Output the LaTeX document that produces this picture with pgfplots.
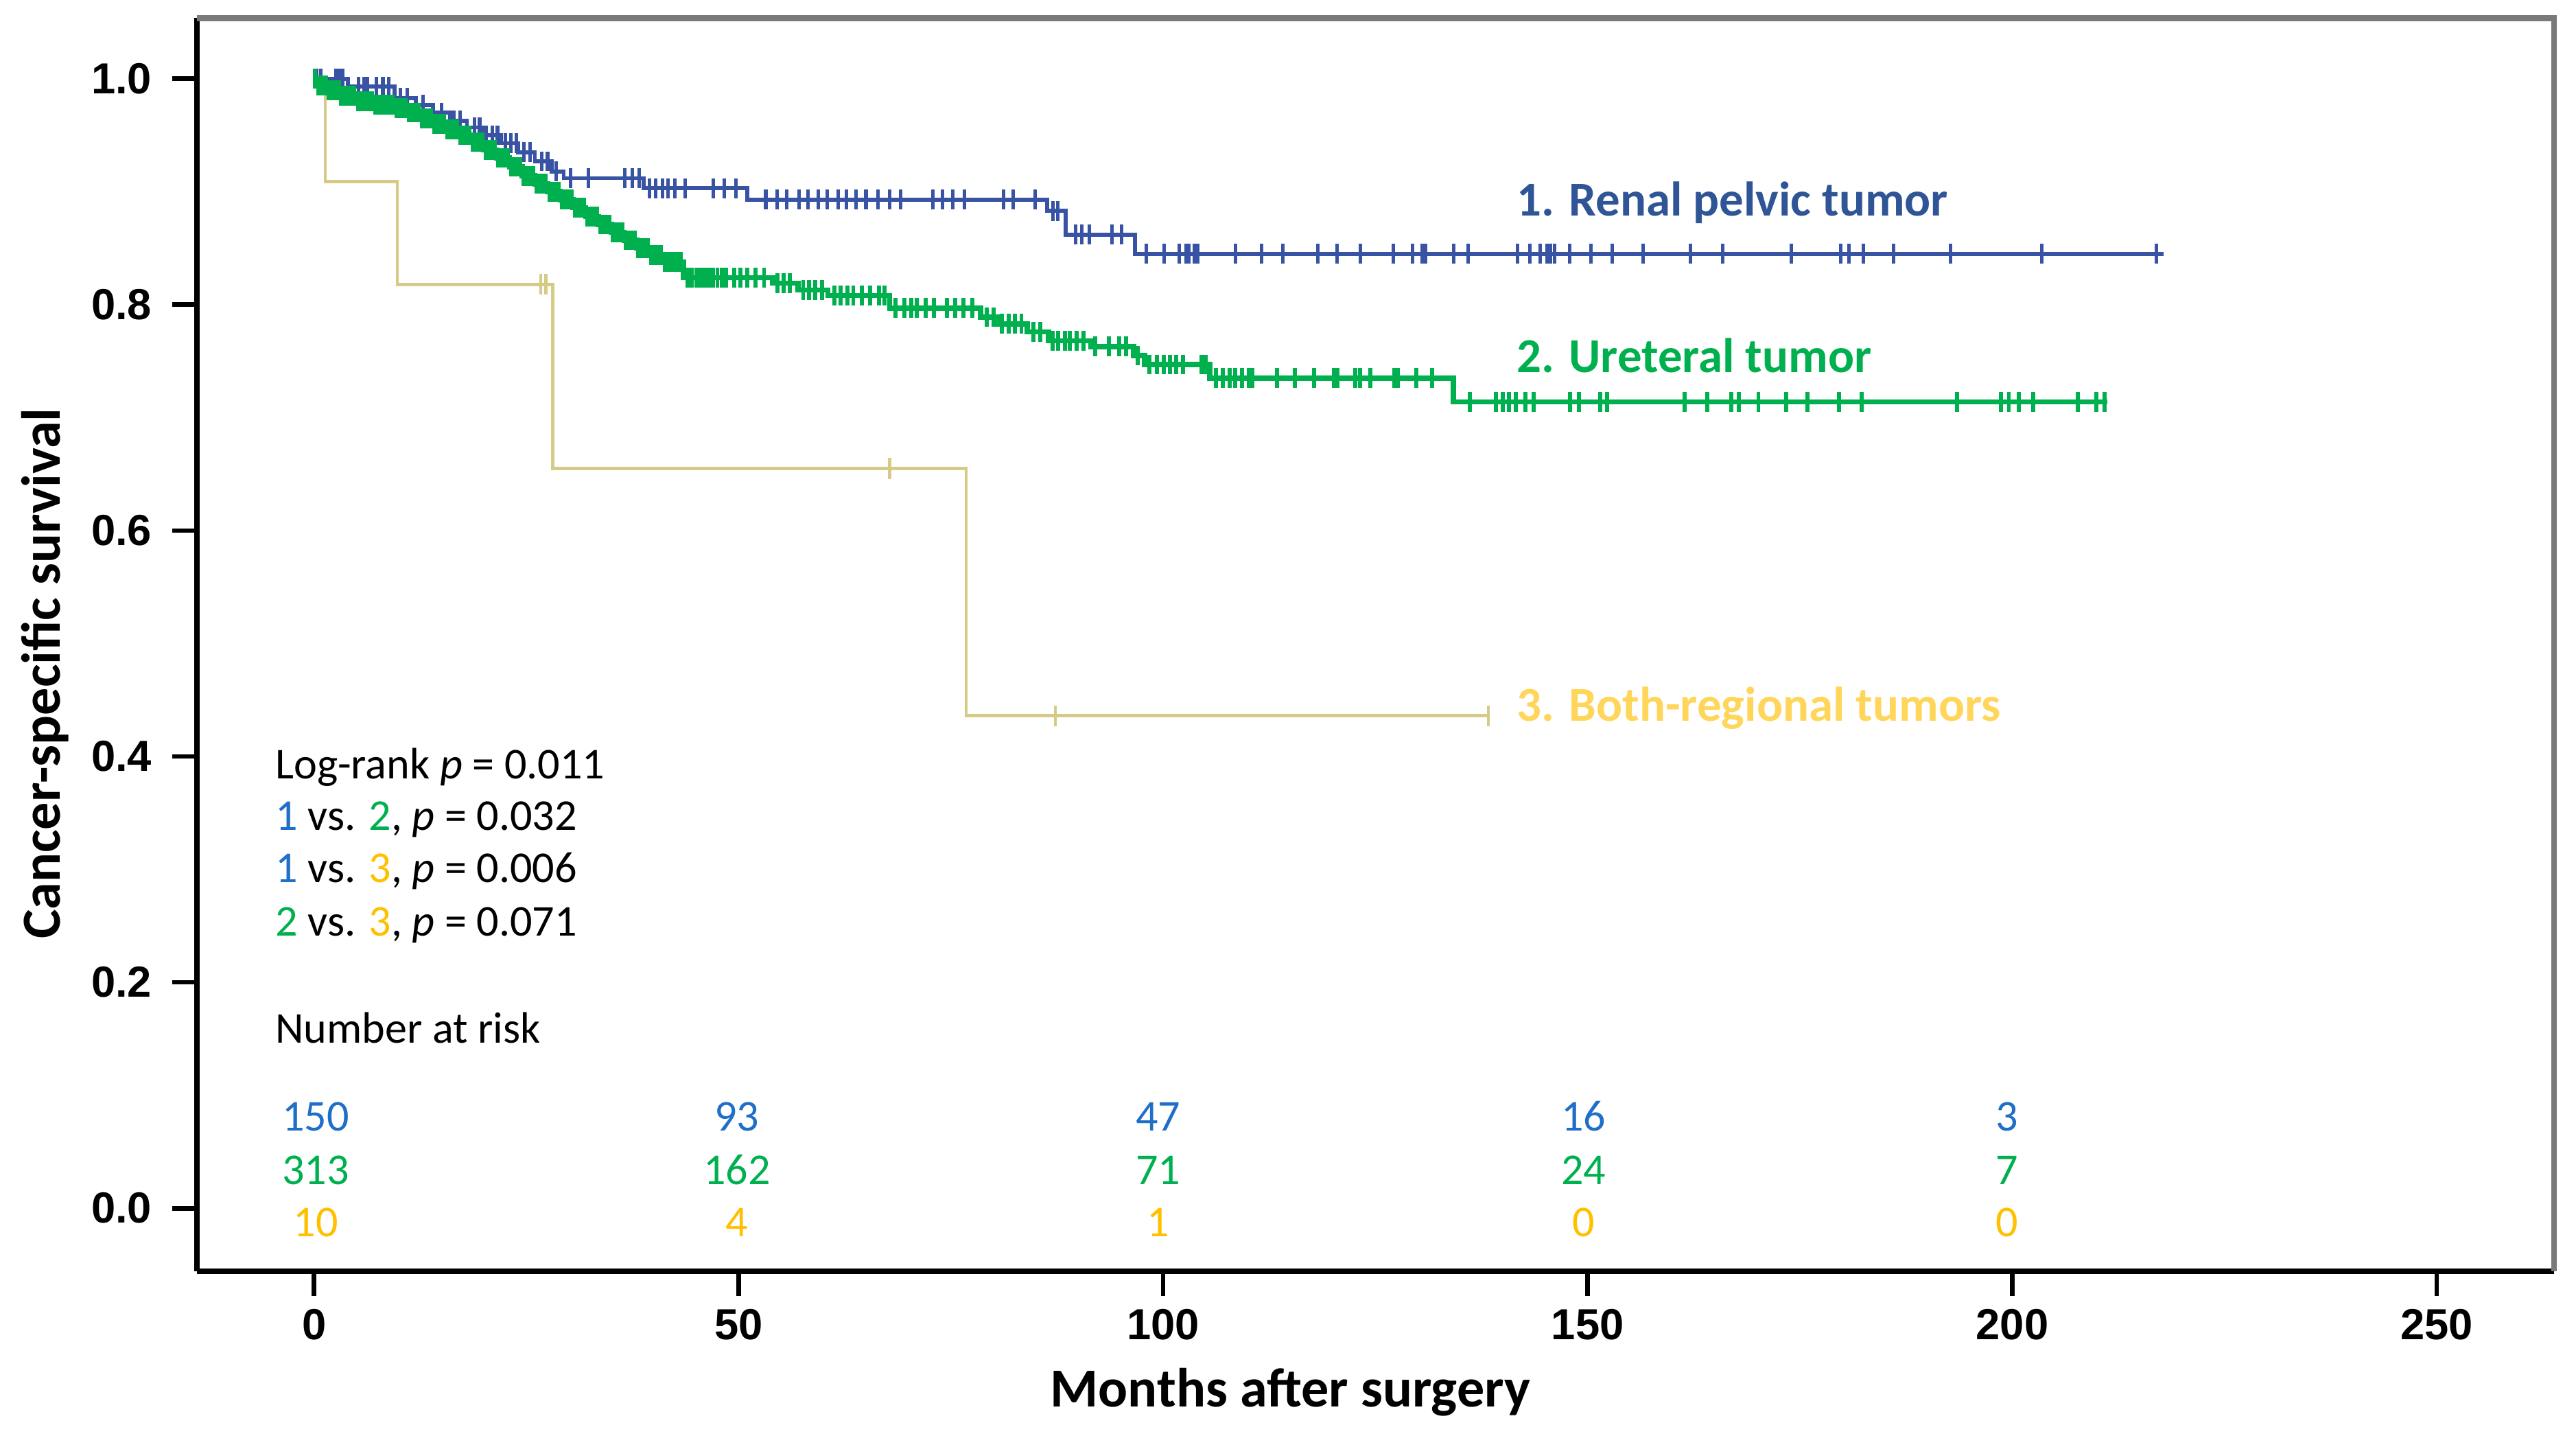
\documentclass[border=0pt]{standalone}
\usepackage{fontspec}
\setmainfont{Carlito}
\newfontfamily\arialfont{Liberation Sans}
\usepackage{pgfplots}
\pgfplotsset{compat=1.18}

\definecolor{kmBlue}{HTML}{3953A4}
\definecolor{kmGreen}{HTML}{00B04F}
\definecolor{kmGold}{HTML}{D6CB86}
\definecolor{labBlue}{HTML}{2F5597}
\definecolor{labGold}{HTML}{FFD55A}
\definecolor{numBlue}{HTML}{1F6FC8}
\definecolor{numGold}{HTML}{FFC000}
\definecolor{frameGray}{HTML}{7A7A7A}

% Kaplan-Meier steps (months, survival)
\pgfplotstableread{
x y
0 1.000
4.0 0.993
9.5 0.983
12.0 0.977
14.0 0.970
16.0 0.963
18.0 0.957
20.0 0.950
22.0 0.943
24.0 0.935
26.0 0.927
28.0 0.918
29.4 0.912
38.8 0.903
51.0 0.893
86.3 0.883
88.5 0.862
96.7 0.845
217.8 0.845
}\renal
\pgfplotstableread{
x y
0.3 1.000
0.8 1.000
2.6 1.000
3.0 1.000
3.4 1.000
5.2 0.993
5.9 0.993
6.3 0.993
7.3 0.993
8.1 0.993
8.8 0.993
10.2 0.983
11.0 0.983
12.8 0.977
15.0 0.970
16.5 0.963
17.2 0.963
18.9 0.957
19.5 0.957
20.3 0.950
21.0 0.950
21.6 0.950
22.5 0.943
23.2 0.943
23.8 0.943
24.7 0.935
25.4 0.935
26.8 0.927
27.5 0.927
28.5 0.918
30.2 0.912
32.3 0.912
36.6 0.912
37.5 0.912
38.3 0.912
39.5 0.903
40.2 0.903
41.0 0.903
41.7 0.903
42.5 0.903
43.7 0.903
47.0 0.903
48.3 0.903
49.7 0.903
53.2 0.893
54.5 0.893
55.7 0.893
57.1 0.893
58.2 0.893
59.4 0.893
60.4 0.893
61.7 0.893
62.7 0.893
63.8 0.893
65.0 0.893
66.4 0.893
67.8 0.893
69.1 0.893
72.9 0.893
74.0 0.893
75.2 0.893
76.6 0.893
81.2 0.893
82.3 0.893
84.9 0.893
87.0 0.883
87.6 0.883
89.7 0.862
90.4 0.862
91.3 0.862
94.0 0.862
95.1 0.862
98.0 0.845
100.1 0.845
101.9 0.845
102.7 0.845
103.0 0.845
103.7 0.845
104.1 0.845
108.5 0.845
111.6 0.845
114.1 0.845
118.2 0.845
120.5 0.845
123.2 0.845
127.1 0.845
129.4 0.845
130.5 0.845
130.9 0.845
134.2 0.845
135.9 0.845
141.7 0.845
143.2 0.845
144.4 0.845
145.2 0.845
145.6 0.845
146.1 0.845
147.9 0.845
150.4 0.845
152.9 0.845
156.5 0.845
162.1 0.845
165.9 0.845
174.0 0.845
179.8 0.845
180.8 0.845
182.5 0.845
186.0 0.845
192.7 0.845
203.5 0.845
217.0 0.845
}\renalcens

\pgfplotstableread{
x y
0 1.000
0.3 0.994
1.5 0.990
3.0 0.985
5.0 0.980
7.0 0.977
9.5 0.974
11.0 0.970
12.5 0.965
14.0 0.960
15.5 0.955
17.0 0.950
18.5 0.944
20.0 0.937
21.5 0.930
23.0 0.922
24.5 0.914
26.0 0.907
27.5 0.900
29.0 0.893
30.5 0.886
32.0 0.878
33.5 0.871
35.0 0.864
36.5 0.857
38.0 0.850
39.5 0.844
41.0 0.838
43.5 0.824
54.0 0.819
57.0 0.813
60.5 0.808
67.8 0.797
78.5 0.789
80.5 0.783
84.0 0.776
86.5 0.768
91.5 0.763
96.5 0.755
97.8 0.747
105.5 0.735
134.2 0.714
211.2 0.714
}\ureter
\pgfplotstableread{
x y
0.1 1.000
0.5 0.994
0.8 0.994
1.1 0.994
1.4 0.994
1.7 0.990
2.0 0.990
2.3 0.990
2.6 0.990
2.9 0.990
3.2 0.985
3.5 0.985
3.8 0.985
4.1 0.985
4.4 0.985
4.7 0.985
5.2 0.980
5.6 0.980
6.0 0.980
6.4 0.980
6.8 0.980
7.2 0.977
7.6 0.977
8.0 0.977
8.4 0.977
8.8 0.977
9.2 0.977
9.7 0.974
10.1 0.974
10.5 0.974
10.8 0.974
11.2 0.970
11.6 0.970
12.0 0.970
12.3 0.970
12.7 0.965
13.1 0.965
13.5 0.965
13.8 0.965
14.2 0.960
14.6 0.960
15.0 0.960
15.3 0.960
15.7 0.955
16.1 0.955
16.5 0.955
16.8 0.955
17.2 0.950
17.6 0.950
18.0 0.950
18.3 0.950
18.7 0.944
19.1 0.944
19.5 0.944
19.8 0.944
20.2 0.937
20.6 0.937
21.0 0.937
21.3 0.937
21.7 0.930
22.1 0.930
22.5 0.930
22.8 0.930
23.2 0.922
23.6 0.922
24.0 0.922
24.3 0.922
24.7 0.914
25.1 0.914
25.5 0.914
25.8 0.914
26.2 0.907
26.6 0.907
27.0 0.907
27.3 0.907
27.7 0.900
28.1 0.900
28.5 0.900
28.8 0.900
29.2 0.893
29.6 0.893
30.0 0.893
30.3 0.893
30.7 0.886
31.1 0.886
31.5 0.886
31.8 0.886
32.2 0.878
32.6 0.878
33.0 0.878
33.3 0.878
33.7 0.871
34.1 0.871
34.5 0.871
34.8 0.871
35.2 0.864
35.6 0.864
36.0 0.864
36.3 0.864
36.7 0.857
37.1 0.857
37.5 0.857
37.8 0.857
38.2 0.850
38.6 0.850
39.0 0.850
39.3 0.850
39.7 0.844
40.1 0.844
40.5 0.844
40.8 0.844
41.3 0.838
41.8 0.838
42.3 0.838
42.8 0.838
43.2 0.838
44.0 0.824
44.5 0.824
45.0 0.824
45.5 0.824
46.0 0.824
46.5 0.824
47.0 0.824
47.5 0.824
48.0 0.824
48.5 0.824
49.5 0.824
50.2 0.824
51.0 0.824
52.0 0.824
53.0 0.824
54.6 0.819
55.3 0.819
56.0 0.819
57.6 0.813
58.3 0.813
59.0 0.813
59.8 0.813
61.3 0.808
62.0 0.808
62.8 0.808
63.5 0.808
64.5 0.808
65.5 0.808
66.5 0.808
67.2 0.808
68.5 0.797
69.5 0.797
70.3 0.797
71.0 0.797
72.0 0.797
73.0 0.797
74.5 0.797
75.5 0.797
76.5 0.797
77.5 0.797
79.2 0.789
80.0 0.789
81.0 0.783
81.8 0.783
82.5 0.783
83.3 0.783
84.7 0.776
85.5 0.776
87.0 0.768
87.6 0.768
88.4 0.768
89.0 0.768
89.8 0.768
90.6 0.768
92.0 0.763
93.6 0.763
94.8 0.763
95.6 0.763
97.0 0.755
98.4 0.747
99.3 0.747
100.1 0.747
100.8 0.747
101.5 0.747
102.3 0.747
104.5 0.747
105.0 0.747
106.2 0.735
107.0 0.735
107.8 0.735
108.5 0.735
109.3 0.735
110.1 0.735
110.5 0.735
113.4 0.735
115.5 0.735
117.8 0.735
120.1 0.735
120.5 0.735
122.6 0.735
123.2 0.735
124.4 0.735
127.2 0.735
127.6 0.735
129.8 0.735
131.7 0.735
136.1 0.714
139.2 0.714
140.0 0.714
140.7 0.714
141.5 0.714
142.7 0.714
143.6 0.714
147.9 0.714
149.0 0.714
151.5 0.714
152.3 0.714
161.4 0.714
164.1 0.714
166.9 0.714
167.8 0.714
170.1 0.714
173.4 0.714
175.9 0.714
179.6 0.714
182.3 0.714
193.5 0.714
198.7 0.714
199.6 0.714
200.8 0.714
202.5 0.714
207.7 0.714
209.9 0.714
210.9 0.714
}\uretercens

\pgfplotstableread{
x y
0 1.000
1.3 0.909
9.8 0.818
28.1 0.655
76.8 0.436
138.3 0.436
}\both
\pgfplotstableread{
x y
26.7 0.818
27.3 0.818
67.8 0.655
87.3 0.436
138.3 0.436
}\bothcens

\begin{document}
\begin{tikzpicture}
\begin{axis}[
  scale only axis, width=143mm, height=76mm,
  xmin=-13.8, xmax=263.8, ymin=-0.0558, ymax=1.0537,
  axis lines=left, axis line style={-, line width=1pt, black},
  tick align=outside, major tick length=1.5mm,
  tick style={black, line width=0.8pt},
  xtick={0,50,100,150,200,250},
  ytick={0,0.2,0.4,0.6,0.8,1.0},
  /pgf/number format/assume math mode=true,
  y tick label style={/pgf/number format/.cd, fixed, fixed zerofill, precision=1},
  x tick label style={yshift=1.2pt},
  ticklabel style={font=\arialfont\bfseries\fontsize{7.5}{9}\selectfont},
  xlabel={Months after surgery},
  ylabel={Cancer-specific survival},
  label style={font=\bfseries\fontsize{9.5}{11}\selectfont},
  xlabel style={at={(axis description cs:0.4639,-0.1083)}, anchor=base},
  ylabel style={at={(axis description cs:-0.0645,0.477)}, anchor=center, inner sep=0pt},
  clip=false,
]
% frame: grey on top and right
\draw[frameGray, line width=1pt] (rel axis cs:0,1) -- (rel axis cs:1,1) -- (rel axis cs:1,0);
\path (axis description cs:-0.08356,-0.12434) rectangle (axis description cs:1.00937,1.01447);

\addplot[const plot, kmBlue, line width=0.7pt] table {\renal};
\addplot[only marks, kmBlue, mark=|, mark size=1.7pt, mark options={line width=0.6pt}] table {\renalcens};
\addplot[const plot, kmGreen, line width=0.9pt] table {\ureter};
\addplot[only marks, kmGreen, mark=|, mark size=1.7pt, mark options={line width=0.7pt}] table {\uretercens};
\addplot[const plot, kmGold, line width=0.55pt] table {\both};
\addplot[only marks, kmGold, mark=|, mark size=1.8pt, mark options={line width=0.55pt}] table {\bothcens};

% curve labels
\begin{scope}[every node/.style={anchor=base west, inner sep=0pt, font=\bfseries\fontsize{8.4}{10}\selectfont}]
\node[text=labBlue] at (axis cs:141.5,0.8785) {1. Renal pelvic tumor};
\node[text=kmGreen] at (axis cs:141.5,0.740) {2. Ureteral tumor};
\node[text=labGold] at (axis cs:141.5,0.431) {3. Both-regional tumors};
\end{scope}

% statistics
\begin{scope}[every node/.style={anchor=base west, inner sep=0pt, font=\fontsize{7.6}{9}\selectfont}]
\node at (axis cs:-4.7,0.3804) {Log-rank \textit{p} = 0.011};
\node at (axis cs:-4.7,0.3345) {\textcolor{numBlue}{1} vs. \textcolor{kmGreen}{2}, \textit{p} = 0.032};
\node at (axis cs:-4.7,0.2885) {\textcolor{numBlue}{1} vs. \textcolor{numGold}{3}, \textit{p} = 0.006};
\node at (axis cs:-4.7,0.2413) {\textcolor{kmGreen}{2} vs. \textcolor{numGold}{3}, \textit{p} = 0.071};
\node at (axis cs:-4.7,0.1464) {Number at risk};
\end{scope}

% numbers at risk
\begin{scope}[every node/.style={anchor=base, inner sep=0pt, font=\fontsize{7.6}{9}\selectfont}]
\node[text=numBlue] at (axis cs:0.2,0.0682) {150};
\node[text=numBlue] at (axis cs:49.8,0.0682) {93};
\node[text=numBlue] at (axis cs:99.4,0.0682) {47};
\node[text=numBlue] at (axis cs:149.5,0.0682) {16};
\node[text=numBlue] at (axis cs:199.4,0.0682) {3};
\node[text=kmGreen] at (axis cs:0.2,0.0209) {313};
\node[text=kmGreen] at (axis cs:49.8,0.0209) {162};
\node[text=kmGreen] at (axis cs:99.4,0.0209) {71};
\node[text=kmGreen] at (axis cs:149.5,0.0209) {24};
\node[text=kmGreen] at (axis cs:199.4,0.0209) {7};
\node[text=numGold] at (axis cs:0.2,-0.0251) {10};
\node[text=numGold] at (axis cs:49.8,-0.0251) {4};
\node[text=numGold] at (axis cs:99.4,-0.0251) {1};
\node[text=numGold] at (axis cs:149.5,-0.0251) {0};
\node[text=numGold] at (axis cs:199.4,-0.0251) {0};
\end{scope}
\end{axis}
\end{tikzpicture}
\end{document}
